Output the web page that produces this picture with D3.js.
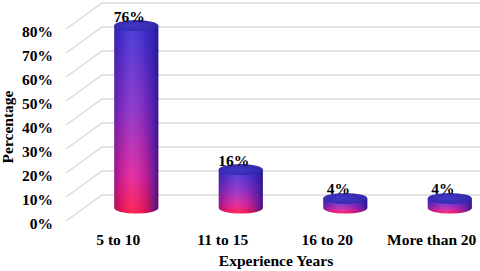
<!DOCTYPE html>
<html>
<head>
<meta charset="utf-8">
<script src="https://cdn.jsdelivr.net/npm/d3@7"></script>
<style>
  html, body { margin: 0; padding: 0; background: #fff; }
  svg { display: block; }
</style>
</head>
<body>
<div id="chart"></div>
<script>
const WIDTH = 480
const HEIGHT = 271
const FONT = "'Liberation Serif', 'Times New Roman', Times, serif"

// data
const categories = ['5 to 10', '11 to 15', '16 to 20', 'More than 20'];
const values = [76, 16, 4, 4];
const dataLabels = ['76%', '16%', '4%', '4%'];
const yTicks = [0, 10, 20, 30, 40, 50, 60, 70, 80];

// 3d depth of the back wall
const DX = 36, DY = -26;

var svg = d3.select("#chart").append("svg")
    .attr("width", WIDTH)
    .attr("height", HEIGHT)
    .style("font-family", FONT)
    .style("font-weight", "bold");

// front plane scales
var yScale = d3.scaleLinear()
    .domain([0, 80])
    .range([221, 29]);

var xScale = d3.scaleBand()
    .domain(categories)
    .range([66, 484]);

var defs = svg.append("defs");

// body colour, pink at bottom to blue at top
var bodyGrad = defs.append("linearGradient")
    .attr("id", "bodyGrad")
    .attr("x1", 0).attr("y1", 0).attr("x2", 0).attr("y2", 1);
[[0, '#3a30d4'], [0.45, '#8a2cc6'], [0.8, '#e0209a'], [1, '#ff1248']].forEach(s => {
    bodyGrad.append("stop").attr("offset", s[0]).attr("stop-color", s[1]);
});

// side shading of the cylinder
var shadeGrad = defs.append("linearGradient")
    .attr("id", "shadeGrad")
    .attr("x1", 0).attr("y1", 0).attr("x2", 1).attr("y2", 0);
[[0, '#2a1470', 0.4], [0.15, '#2a1470', 0.12], [0.4, '#ffffff', 0.08], [0.7, '#281890', 0.15], [0.9, '#201890', 0.55], [1, '#1c1480', 0.85]].forEach(s => {
    shadeGrad.append("stop").attr("offset", s[0]).attr("stop-color", s[1]).attr("stop-opacity", s[2]);
});

var topGrad = defs.append("radialGradient")
    .attr("id", "topGrad")
    .attr("cx", 0.45).attr("cy", 0.5).attr("r", 0.6);
topGrad.append("stop").attr("offset", 0).attr("stop-color", "#4238c8");
topGrad.append("stop").attr("offset", 1).attr("stop-color", "#3326a6");

// gridlines: floor diagonal + back wall horizontal
var grid = svg.append("g")
    .attr("stroke", "#d9d9d9")
    .attr("stroke-width", 1.3)
    .attr("fill", "none");

yTicks.forEach(t => {
    var y = yScale(t);
    grid.append("path")
        .attr("d", `M66,${y} L${66 + DX},${y + DY} L${WIDTH},${y + DY}`);
});

function label(sel, size) {
    return sel.attr("font-family", FONT)
        .attr("font-weight", "bold")
        .attr("font-size", size)
        .attr("fill", "#000");
}

// y tick labels
svg.append("g").selectAll("text")
    .data(yTicks)
    .enter()
    .append("text")
        .attr("x", 53)
        .attr("y", d => yScale(d) + 8)
        .attr("text-anchor", "end")
        .call(label, "15.5px")
        .text(d => d + "%");

// cylinders sit half way into the depth
var rx = 22, ry = 5.5;
var midDX = DX / 2, midDY = DY / 2;

var bars = svg.append("g").selectAll("g")
    .data(values)
    .enter()
    .append("g");

bars.each(function(d, i) {
    var g = d3.select(this);
    var cx = xScale(categories[i]) + xScale.bandwidth() / 2 + midDX;
    var yTop = yScale(d) + midDY;
    var yBot = yScale(0) + midDY;
    var body = `M${cx - rx},${yTop} L${cx - rx},${yBot} A${rx},${ry} 0 0 0 ${cx + rx},${yBot} L${cx + rx},${yTop} Z`;
    g.append("path").attr("d", body).attr("fill", "url(#bodyGrad)");
    g.append("path").attr("d", body).attr("fill", "url(#shadeGrad)");
    g.append("ellipse")
        .attr("cx", cx).attr("cy", yTop)
        .attr("rx", rx).attr("ry", ry)
        .attr("fill", "url(#topGrad)");
    g.append("text")
        .attr("x", cx - 7)
        .attr("y", yTop - 4)
        .attr("text-anchor", "middle")
        .call(label, "15.5px")
        .text(dataLabels[i]);
});

// category labels at the front edge
svg.append("g").selectAll("text")
    .data(categories)
    .enter()
    .append("text")
        .attr("x", d => xScale(d) + xScale.bandwidth() / 2)
        .attr("y", 245)
        .attr("text-anchor", "middle")
        .call(label, "15.5px")
        .text(d => d);

// axis titles
svg.append("text")
    .attr("x", 276)
    .attr("y", 266)
    .attr("text-anchor", "middle")
    .call(label, "15.5px")
    .text("Experience Years");

svg.append("text")
    .attr("transform", "translate(13,127) rotate(-90)")
    .attr("text-anchor", "middle")
    .call(label, "15.5px")
    .text("Percentage");
</script>
</body>
</html>
